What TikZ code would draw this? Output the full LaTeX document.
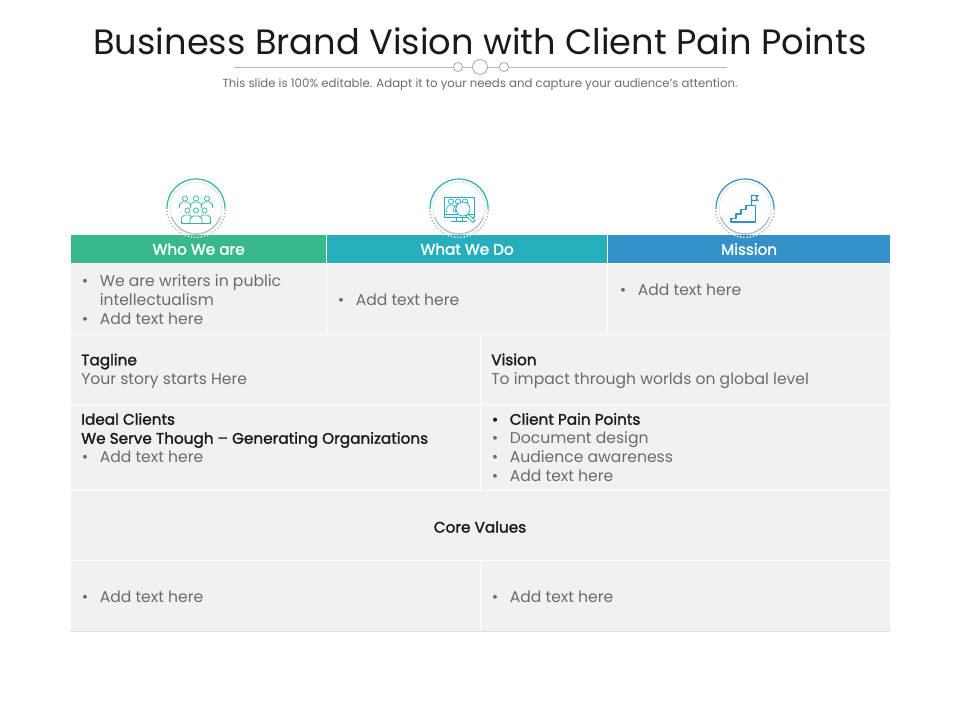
\documentclass[tikz,border=0pt]{standalone}
\usepackage{fontspec}
\setmainfont{Poppins}
\definecolor{cg}{HTML}{37B98B}
\definecolor{ct}{HTML}{27AEBD}
\definecolor{cb}{HTML}{3390C9}
\definecolor{cell}{HTML}{F1F1F1}
\definecolor{txt}{HTML}{6B6B6B}
\definecolor{dark}{HTML}{1A1A1A}
\newcommand{\bl}{\makebox[13.9pt][l]{\hspace*{0.5pt}•}}
\newcommand{\bfx}[1]{{\fontsize{11.45pt}{14.25pt}\selectfont\color{dark}\addfontfeature{FakeBold=1.6}#1}}
\begin{document}
\begin{tikzpicture}[x=0.75pt,y=-0.75pt,
 cellbox/.style={fill=cell,draw=white,line width=0.9pt,anchor=north west,inner sep=0,minimum width=#1*0.75pt},
 head/.style={anchor=north west,inner sep=0,minimum height=21.75pt,text=white,font=\fontsize{11.4pt}{13pt}\selectfont\addfontfeature{FakeBold=1.6},draw=white,line width=0.9pt},
 body/.style={anchor=west,inner sep=0,align=left,text=txt,font=\fontsize{11.7pt}{14.25pt}\selectfont},
 icong/.style={draw=#1,line width=0.55pt,line join=round,line cap=round},
 ringg/.style={draw=black!8,line width=0.9pt,fill=white},
 dots/.style={draw=black!35,line width=1pt,dash pattern=on 0.8pt off 1.6pt}]
\useasboundingbox (0,0) rectangle (960,720);
% title
\node[inner sep=0,text=dark,font=\fontsize{26.4pt}{32pt}\selectfont] (title) at (480,41) {Business Brand Vision with Client Pain Points};
\node[inner sep=0,text=txt,font=\fontsize{8.8pt}{10pt}\selectfont] (sub) at (480,85) {This slide is 100\% editable. Adapt it to your needs and capture your audience’s attention.};
\node[circle,draw=black!40,line width=0.5pt,minimum size=11.2pt,inner sep=0] (cm) at (480,67) {};
\node[circle,draw=black!40,line width=0.5pt,minimum size=6.8pt,inner sep=0] (cl) at (458,67) {};
\node[circle,draw=black!40,line width=0.5pt,minimum size=6.8pt,inner sep=0] (cr) at (504,67) {};
\coordinate (rl) at (234,67); \coordinate (rr) at (727,67);
\draw[black!28,line width=0.5pt] (rl)--(cl) (cl)--(cm) (cm)--(cr) (cr)--(rr);
% header
\node[head,fill=cg,minimum width=192pt] (h1) at (70,234) {Who We are};
\node[head,fill=ct,minimum width=210.75pt] (h2) at (326,234) {What We Do};
\node[head,fill=cb,minimum width=212.25pt] (h3) at (607,234) {Mission};
% cells
\node[cellbox=256,minimum height=53.25pt] (c1) at (70,263) {};
\node[cellbox=281,minimum height=53.25pt] (c2) at (326,263) {};
\node[cellbox=283,minimum height=53.25pt] (c3) at (607,263) {};
\node[cellbox=410,minimum height=52.5pt] (c4) at (70,334) {};
\node[cellbox=410,minimum height=52.5pt] (c5) at (480,334) {};
\node[cellbox=410,minimum height=64.5pt] (c6) at (70,404) {};
\node[cellbox=410,minimum height=64.5pt] (c7) at (480,404) {};
\node[cellbox=820,minimum height=52.5pt] (c8) at (70,490) {};
\node[cellbox=410,minimum height=53.25pt] (c9) at (70,560) {};
\node[cellbox=410,minimum height=53.25pt] (c10) at (480,560) {};
\coordinate (bl) at (70,631.5); \coordinate (br) at (890,631.5);
\draw[black!12,line width=0.6pt] (bl)--(br);
% texts
\node[body] (t1) at (81,300) {\bl We are writers in public\\\hspace*{13.9pt}intellectualism\\\bl Add text here};
\node[body] (t2) at (337,300) {\bl Add text here};
\node[body] (t3) at (619,290) {\bl Add text here};
\node[body] (t4) at (81,371) {\bfx{Tagline}\\Your story starts Here};
\node[body] (t5) at (491,371) {\bfx{Vision}\\To impact through worlds on global level};
\node[body] (t6) at (81,438) {\bfx{Ideal Clients}\\\bfx{We Serve Though – Generating Organizations}\\\bl Add text here};
\node[body] (t7) at (491,447.5) {\bfx{\bl Client Pain Points}\\\bl Document design\\\bl Audience awareness\\\bl Add text here};
\node[inner sep=0] (t8) at (480,527) {\bfx{Core Values}};
\node[body] (t9) at (81,597) {\bl Add text here};
\node[body] (t10) at (491,597) {\bl Add text here};
% badges
\foreach \n/\x/\c in {a/196/cg,b/459/ct,c/745/cb}{
 \coordinate (\n) at (\x,208);
 \draw[dots] ([shift={(4:29.5)}]\n) arc[start angle=-4,end angle=-176,radius=22.1pt];
 \begin{scope}
  \clip (\x-40,234.5) rectangle (\x+40,245);
  \draw[dots,draw=white,line width=1.1pt] ([shift={(4:29.5)}]\n) arc[start angle=-4,end angle=-176,radius=22.1pt];
 \end{scope}
 \node[circle,ringg,minimum size=39pt,inner sep=0] (\n r) at (\n) {};
 \draw[black!25,line width=1pt] ([shift={(20:26)}]\n) arc[start angle=-20,end angle=-160,radius=19.5pt];
 \draw[draw=\c,line width=0.9pt] ([shift={(2:29)}]\n) arc[start angle=-2,end angle=182,radius=21.75pt];
}
% people icon
\begin{scope}[shift={(a)}]
 \foreach \p in {-11,0,11}{
  \draw[icong=cg] (\p,-9.5) circle[radius=2.6];
 }
 \foreach \p in {-11,11}{
  \draw[icong=cg] (\p-5.5,-0.5) -- (\p-5.5,-3.5) -- (\p-2.5,-6) -- (\p+2.5,-6) -- (\p+5.5,-3.5) -- (\p+5.5,-0.5);
 }
 \draw[icong=cg] (-5.5,-3.5) -- (-2.5,-6) -- (2.5,-6) -- (5.5,-3.5);
 \foreach \p in {-8.5,0,8.5}{
  \draw[icong=cg] (\p,2.5) circle[radius=2.6];
 }
 \draw[icong=cg] (-14.5,15) -- (-14.5,9.5) -- (-11.5,7) -- (-6,7) -- (-5,9);
 \draw[icong=cg] (14.5,15) -- (14.5,9.5) -- (11.5,7) -- (6,7) -- (5,9);
 \draw[icong=cg] (-14.5,15) -- (14.5,15);
 \draw[icong=cg] (-6,15) -- (-6,11) -- (-3,8) -- (3,8) -- (6,11) -- (6,15);
\end{scope}
% monitor icon
\begin{scope}[shift={(b)}]
 \draw[icong=ct] (-15,-11) rectangle (15,9);
 \draw[icong=ct] (-15,6.5) -- (15,6.5);
 \draw[icong=ct] (-3,9) -- (-3,13.5) (3,9) -- (3,13.5) (-8,13.5) -- (8,13.5);
 \foreach \p in {-8,-1,6}{
  \draw[icong=ct] (\p,-6.5) circle[radius=2.6];
  \draw[icong=ct] (\p-4.5,4) -- (\p-4,-1) -- (\p-1.5,-3) -- (\p+1.5,-3) -- (\p+4,-1) -- (\p+4.5,4);
 }
 \draw[icong=ct,fill=white] (4,1) circle[radius=7];
 \draw[icong=ct,fill=white] (9,6) -- (16,12.5) -- (14,14.5) -- (7,8) -- cycle;
\end{scope}
% stairs icon
\begin{scope}[shift={(c)}]
 \draw[icong=cb,line width=0.9pt] (-14,14) -- (-14,10.5) -- (-9,10.5) -- (-9,6) -- (-4,6) -- (-4,1.5) -- (1,1.5) -- (1,-2.5) -- (10.5,-2.5) -- (10.5,14) -- cycle;
 \draw[icong=cb,line width=0.9pt] (6.5,-2.5) -- (6.5,-12.5) -- (13,-12.5) -- (11,-10) -- (13,-7.5) -- (6.5,-7.5);
\end{scope}
\end{tikzpicture}
\end{document}
